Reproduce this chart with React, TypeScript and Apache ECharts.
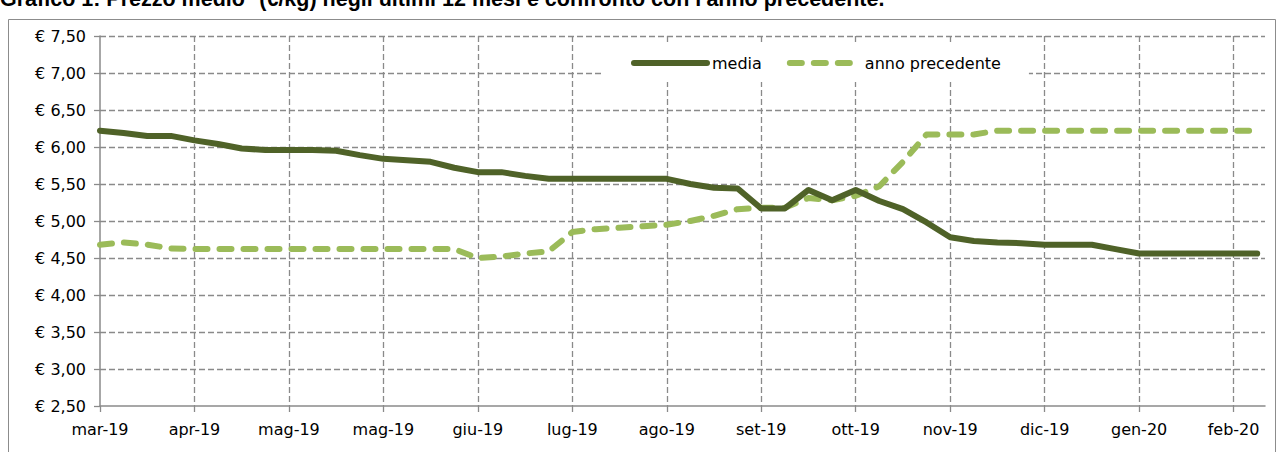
import React, { useEffect, useRef } from "react";
import * as echarts from "echarts";

const titleText =
  "Grafico 1: Prezzo medio* (€/kg) negli ultimi 12 mesi e confronto con l'anno precedente.";

const monthLabels = [
  "mar-19", "apr-19", "mag-19", "mag-19", "giu-19", "lug-19", "ago-19",
  "set-19", "ott-19", "nov-19", "dic-19", "gen-20", "feb-20",
];
const weeksPerLabel = 4;

const seriesNames = ["media", "anno precedente"];

const media = [
  6.22, 6.19, 6.15, 6.15, 6.09, 6.04, 5.98, 5.96, 5.96, 5.96,
  5.95, 5.89, 5.84, 5.82, 5.8, 5.72, 5.66, 5.66, 5.61, 5.57,
  5.57, 5.57, 5.57, 5.57, 5.57, 5.5, 5.45, 5.44, 5.17, 5.17,
  5.42, 5.28, 5.42, 5.27, 5.16, 4.98, 4.78, 4.73, 4.71, 4.7,
  4.68, 4.68, 4.68, 4.62, 4.56, 4.56, 4.56, 4.56, 4.56, 4.56,
];

const annoPrecedente = [
  4.68, 4.71, 4.68, 4.63, 4.62, 4.62, 4.62, 4.62, 4.62, 4.62,
  4.62, 4.62, 4.62, 4.62, 4.62, 4.62, 4.5, 4.52, 4.56, 4.59,
  4.85, 4.89, 4.91, 4.93, 4.95, 5.0, 5.07, 5.16, 5.18, 5.18,
  5.31, 5.28, 5.34, 5.47, 5.8, 6.17, 6.17, 6.17, 6.22, 6.22,
  6.22, 6.22, 6.22, 6.22, 6.22, 6.22, 6.22, 6.22, 6.22, 6.22,
];

const yMin = 2.5;
const yMax = 7.5;
const yStep = 0.5;
const xMax = 49.33;

const FONT = "'DejaVu Sans', sans-serif";
const GRID_COLOR = "#8a8a8a";
const AXIS_COLOR = "#8a8a8a";

export default function App() {
  const ref = useRef<HTMLDivElement>(null);

  useEffect(() => {
    if (!ref.current) return;
    const chart = echarts.init(ref.current, undefined, { renderer: "svg" });
    const tickValues = monthLabels.map((_, i) => i * weeksPerLabel);

    chart.setOption({
      animation: false,
      backgroundColor: "#ffffff",
      textStyle: { fontFamily: FONT },
      graphic: [
        {
          type: "rect",
          shape: { x: 8.5, y: 19.5, width: 1267, height: 450 },
          style: { fill: "none", stroke: "#8c8c8c", lineWidth: 1 },
          z: 0,
          silent: true,
        },
        {
          type: "text",
          x: 0,
          y: 10,
          style: {
            text: titleText,
            font: "bold 21.5px 'Liberation Sans', sans-serif",
            fill: "#000",
            verticalAlign: "bottom",
          },
          silent: true,
        },
      ],
      grid: { left: 100, right: 19, top: 36, bottom: 46, containLabel: false },
      legend: {
        left: 603,
        top: 44,
        padding: [11, 28, 11, 28],
        backgroundColor: "#ffffff",
        itemWidth: 73,
        itemHeight: 14,
        itemGap: 22,
        lineStyle: { width: 6 },
        itemStyle: { opacity: 0 },
        textStyle: { fontFamily: FONT, fontSize: 16, color: "#000" },
        data: [
          { name: seriesNames[0] },
          { name: seriesNames[1], lineStyle: { dashOffset: 21 } },
        ],
      },
      xAxis: {
        type: "value",
        min: 0,
        max: xMax,
        interval: weeksPerLabel,
        axisLine: { show: true, lineStyle: { color: AXIS_COLOR, width: 1.5 } },
        axisTick: {
          show: true,
          length: 6,
          customValues: tickValues,
          lineStyle: { color: GRID_COLOR, type: [6, 3], width: 1.3 },
        },
        axisLabel: {
          customValues: tickValues,
          margin: 15,
          fontSize: 16,
          color: "#000",
          fontFamily: FONT,
          formatter: (v: number) => {
            const idx = Math.round(v / weeksPerLabel);
            return Math.abs(v - idx * weeksPerLabel) < 1e-6 && monthLabels[idx] ? monthLabels[idx] : "";
          },
        },
        splitLine: {
          show: true,
          showMinLine: false,
          lineStyle: { color: GRID_COLOR, type: [6, 3], width: 1.3 },
        },
      },
      yAxis: {
        type: "value",
        min: yMin,
        max: yMax,
        interval: yStep,
        axisLine: { show: true, lineStyle: { color: AXIS_COLOR, width: 1.5 } },
        axisTick: {
          show: true,
          length: 7,
          lineStyle: { color: GRID_COLOR, type: [6, 3], width: 1.3 },
        },
        axisLabel: {
          margin: 14,
          fontSize: 16,
          color: "#000",
          fontFamily: FONT,
          formatter: (v: number) => "€ " + v.toFixed(2).replace(".", ","),
        },
        splitLine: {
          show: true,
          showMinLine: false,
          lineStyle: { color: GRID_COLOR, type: [6, 3], width: 1.3 },
        },
      },
      series: [
        {
          name: seriesNames[0],
          type: "line",
          data: media.map((v, i) => [i, v]),
          symbol: "none",
          showSymbol: false,
          color: "#4F6228",
          lineStyle: { color: "#4F6228", width: 6, cap: "round", join: "round" },
          z: 3,
        },
        {
          name: seriesNames[1],
          type: "line",
          data: annoPrecedente.map((v, i) => [i, v]),
          symbol: "none",
          showSymbol: false,
          color: "#9BBB59",
          lineStyle: { color: "#9BBB59", width: 6, type: [12, 12], cap: "round", join: "round" },
          z: 2,
        },
      ],
    });

    return () => chart.dispose();
  }, []);

  return (
    <div
      ref={ref}
      style={{ position: "fixed", left: 0, top: 0, width: 1284, height: 452 }}
    />
  );
}
